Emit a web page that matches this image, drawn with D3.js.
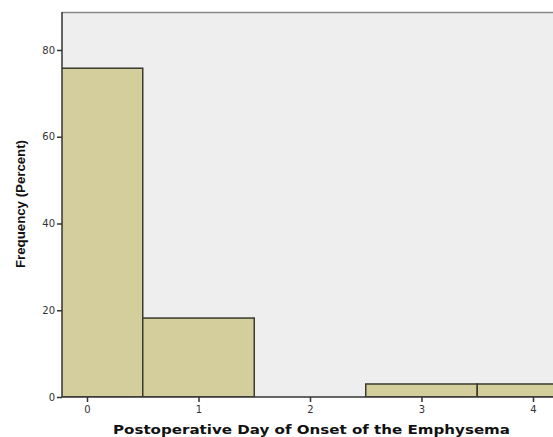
<!DOCTYPE html>
<html><head><meta charset="utf-8">
<script src="https://cdn.jsdelivr.net/npm/d3@7"></script>
<style>body{margin:0;background:#fff;overflow:hidden}</style>
</head><body>
<script>
const days = [0, 1, 2, 3, 4];
const percents = [75.8, 18.2, 0, 3.0, 3.0];
const yTicks = [0, 20, 40, 60, 80];
const xTicks = [0, 1, 2, 3, 4];
const xLabel = "Postoperative Day of Onset of the Emphysema";
const yLabel = "Frequency (Percent)";

const W = 553, H = 437;
const pLeft = 62, pTop = 12, pBottom = 397;
const svg = d3.select("body").append("svg").attr("width", W).attr("height", H);

const x = d3.scaleLinear().domain([0, 1]).range([87, 198.5]);
const pRight = x(4.72);
const y = d3.scaleLinear().domain([0, 80]).range([pBottom, 50]);

svg.append("defs").append("clipPath").attr("id", "c")
  .append("rect").attr("x", pLeft).attr("y", pTop).attr("width", pRight - pLeft).attr("height", pBottom - pTop);

svg.append("rect").attr("x", pLeft).attr("y", pTop).attr("width", pRight - pLeft).attr("height", pBottom - pTop)
  .attr("fill", "#eeeeee");
svg.append("line").attr("x1", pLeft).attr("x2", pRight).attr("y1", pTop + 0.5).attr("y2", pTop + 0.5)
  .attr("stroke", "#888").attr("stroke-width", 1.5);

svg.append("g").attr("clip-path", "url(#c)").selectAll("rect").data(days.filter((d, i) => percents[i] > 0))
  .join("rect")
  .attr("x", d => x(d - 0.5))
  .attr("width", d => x(d + 0.5) - x(d - 0.5))
  .attr("y", d => y(percents[days.indexOf(d)]))
  .attr("height", d => pBottom - y(percents[days.indexOf(d)]))
  .attr("fill", "#d3ce9b").attr("stroke", "#3a3a2e").attr("stroke-width", 1.5);

const yAxis = svg.append("g").attr("transform", `translate(${pLeft},0)`)
  .call(d3.axisLeft(y).tickValues(yTicks).tickFormat(d3.format("d")).tickSize(5).tickPadding(2));
const xAxis = svg.append("g").attr("transform", `translate(0,${pBottom})`)
  .call(d3.axisBottom(x).tickValues(xTicks).tickFormat(d3.format("d")).tickSize(5).tickPadding(4));
yAxis.select(".domain").attr("d", `M0,${pTop}V${pBottom}`);
xAxis.select(".domain").attr("d", `M${pLeft},0H${pRight}`);
[yAxis, xAxis].forEach(a => {
  a.selectAll("path,line").attr("stroke", "#333").attr("stroke-width", 1.5);
  a.selectAll("text").attr("font-family", "'DejaVu Sans', Verdana, sans-serif").attr("font-size", 10).attr("fill", "#333");
});

svg.append("text").attr("x", 311.5).attr("y", 434).attr("text-anchor", "middle")
  .attr("font-family", "'DejaVu Sans', Verdana, sans-serif").attr("font-weight", "bold").attr("font-size", 13)
  .attr("textLength", 397).attr("lengthAdjust", "spacingAndGlyphs")
  .attr("fill", "#111").text(xLabel);
svg.append("text").attr("transform", "translate(25,204) rotate(-90)").attr("text-anchor", "middle")
  .attr("font-family", "'Liberation Sans Narrow', Arial, 'Liberation Sans', sans-serif").attr("font-weight", "bold").attr("font-size", 13)
  .attr("textLength", 128).attr("lengthAdjust", "spacingAndGlyphs")
  .attr("fill", "#111").text(yLabel);
</script>
</body></html>
